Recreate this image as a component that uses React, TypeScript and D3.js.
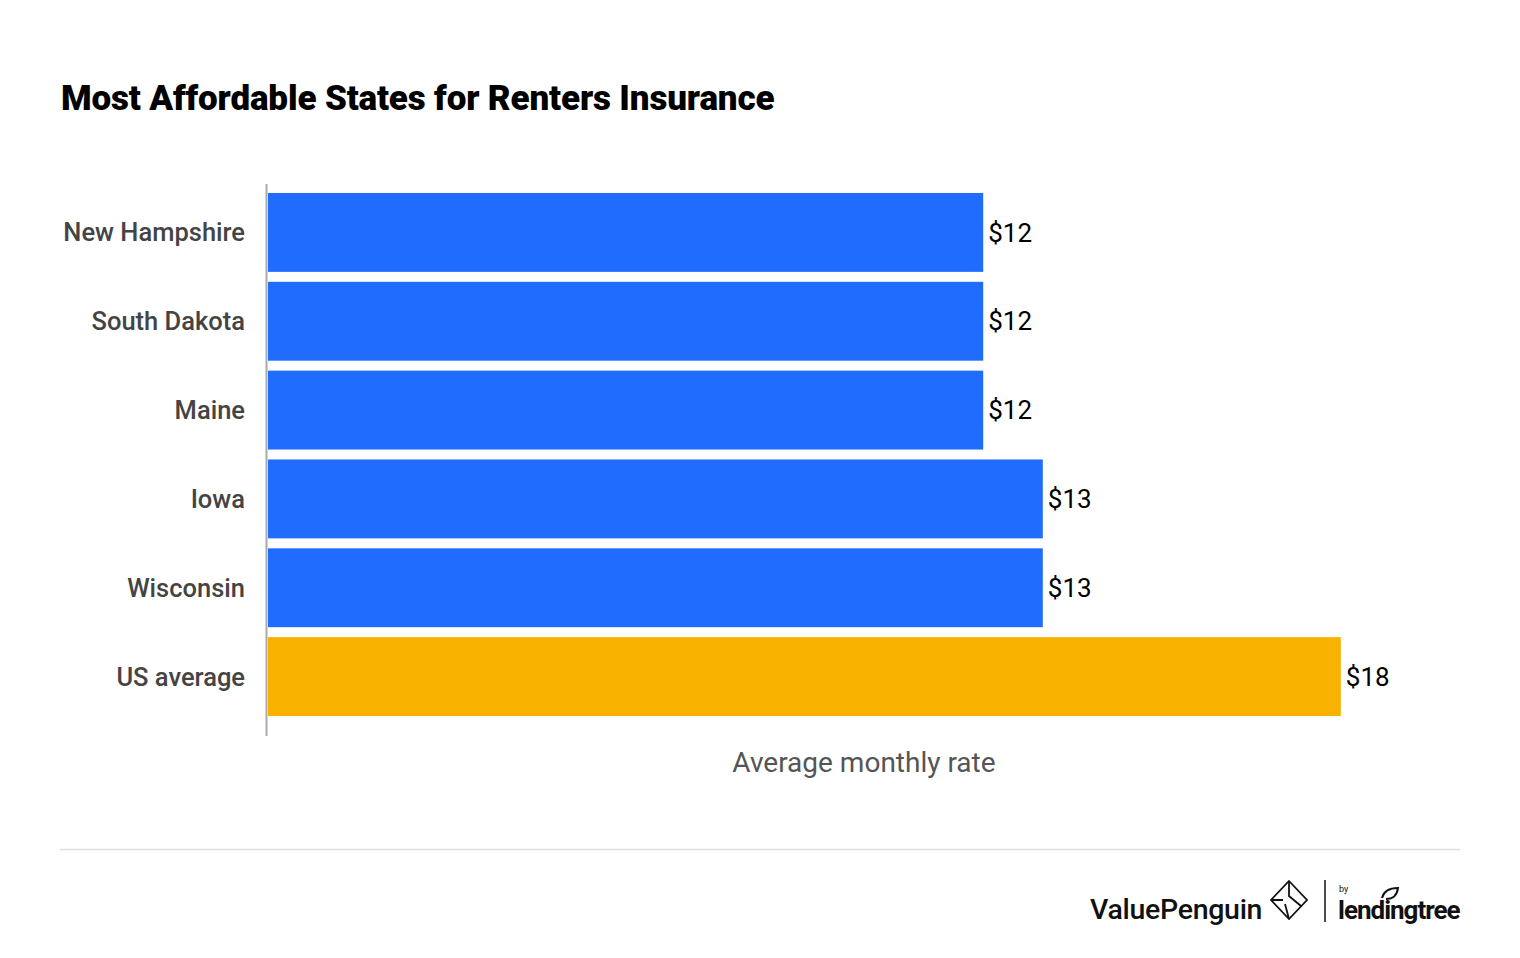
import { useRef, useEffect } from 'react';
import * as d3 from 'd3';

const states = ['New Hampshire', 'South Dakota', 'Maine', 'Iowa', 'Wisconsin', 'US average'];
const rates = [12, 12, 12, 13, 13, 18];
const xTicksMax = 20;

const W = 1520;
const H = 958;

export default function App() {
  const svgRef = useRef<SVGSVGElement>(null);

  useEffect(() => {
    const svg = d3.select(svgRef.current);
    svg.selectAll('*').remove();

    const x = d3.scaleLinear().domain([0, xTicksMax]).range([268, 1460]);
    const y = d3.scaleBand().domain(states).range([188, 721]).paddingInner(0.112).paddingOuter(0.056);

    svg.append('rect').attr('width', W).attr('height', H).attr('fill', '#fff');

    svg.append('text')
      .attr('x', 61).attr('y', 110)
      .attr('font-family', 'Roboto')
      .attr('font-weight', 900)
      .attr('font-size', 35)
      .attr('letter-spacing', -0.15)
      .attr('fill', '#000')
      .text('Most Affordable States for Renters Insurance');

    const data = states.map((s, i) => ({ state: s, rate: rates[i] }));

    svg.selectAll('rect.bar')
      .data(data)
      .join('rect')
      .attr('class', 'bar')
      .attr('x', x(0))
      .attr('y', (d) => y(d.state)!)
      .attr('width', (d) => x(d.rate) - x(0))
      .attr('height', y.bandwidth())
      .attr('fill', (d) => (d.state === 'US average' ? '#f9b200' : '#206cff'));

    svg.selectAll('text.val')
      .data(data)
      .join('text')
      .attr('class', 'val')
      .attr('x', (d) => x(d.rate) + 5)
      .attr('y', (d) => y(d.state)! + y.bandwidth() / 2)
      .attr('dy', '0.35em')
      .attr('font-family', 'Roboto')
      .attr('font-size', 26)
      .attr('fill', '#000')
      .text((d) => `$${d.rate}`);

    svg.selectAll('text.lab')
      .data(data)
      .join('text')
      .attr('class', 'lab')
      .attr('x', 245)
      .attr('y', (d) => y(d.state)! + y.bandwidth() / 2)
      .attr('dy', '0.35em')
      .attr('text-anchor', 'end')
      .attr('font-family', 'Roboto')
      .attr('font-weight', 500)
      .attr('font-size', 25.5)
      .attr('fill', '#444')
      .text((d) => d.state);

    svg.append('line')
      .attr('x1', 266.5).attr('x2', 266.5)
      .attr('y1', 184).attr('y2', 736)
      .attr('stroke', '#aaa').attr('stroke-width', 2);

    svg.append('text')
      .attr('x', (x.range()[0] + x.range()[1]) / 2)
      .attr('y', 772)
      .attr('text-anchor', 'middle')
      .attr('font-family', 'Roboto')
      .attr('font-size', 28)
      .attr('fill', '#555')
      .text('Average monthly rate');

    svg.append('line')
      .attr('x1', 60).attr('x2', 1460)
      .attr('y1', 849.5).attr('y2', 849.5)
      .attr('stroke', '#ddd').attr('stroke-width', 1.5);

    // footer logo
    const logo = svg.append('g');
    logo.append('text')
      .attr('x', 1090).attr('y', 919)
      .attr('font-family', 'Roboto')
      .attr('font-weight', 500)
      .attr('font-size', 28.5)
      .attr('letter-spacing', -0.3)
      .attr('fill', '#111')
      .text('ValuePenguin');

    const icon = logo.append('g').attr('transform', 'translate(1289,900)')
      .attr('fill', 'none').attr('stroke', '#111').attr('stroke-width', 1.8);
    icon.append('path').attr('d', 'M0,-19 L18,0 L0,19 L-18,0 Z');
    icon.append('path').attr('d', 'M0,-19 L0,-4 L12,6 M-18,0 L-6,0 M0,19 L-4,4');

    logo.append('line')
      .attr('x1', 1325).attr('x2', 1325)
      .attr('y1', 880).attr('y2', 922)
      .attr('stroke', '#111').attr('stroke-width', 1.5);

    logo.append('text')
      .attr('x', 1339).attr('y', 892)
      .attr('font-family', 'Roboto')
      .attr('font-size', 9)
      .attr('fill', '#111')
      .text('by');

    logo.append('text')
      .attr('x', 1338).attr('y', 919)
      .attr('font-family', 'Roboto')
      .attr('font-weight', 700)
      .attr('font-size', 26)
      .attr('letter-spacing', -1)
      .attr('fill', '#111')
      .text('lendingtree');

    logo.append('path')
      .attr('d', 'M1382,898 C1384,890 1390,888 1398,888 C1397,896 1392,899 1386,899')
      .attr('fill', 'none').attr('stroke', '#111').attr('stroke-width', 2);
  }, []);

  return (
    <div>
      <svg ref={svgRef} width={W} height={H} style={{ display: 'block', margin: -8 }} />
    </div>
  );
}
